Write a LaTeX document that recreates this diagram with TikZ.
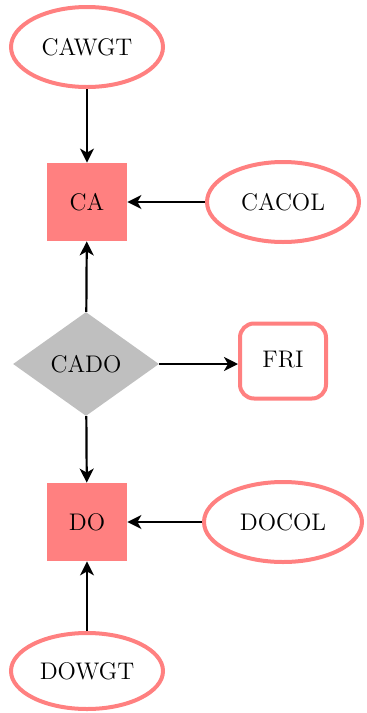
\documentclass[tikz,border=0pt]{standalone}
\usetikzlibrary{shapes.geometric,arrows.meta}
\begin{document}
\begin{tikzpicture}[x=0.5pt,y=-0.5pt,font=\large,
  ell/.style={ellipse,draw=red!50,line width=2pt,fill=white,minimum width=76pt,minimum height=40pt,inner sep=0pt},
  sq/.style={rectangle,fill=red!50,minimum width=40pt,minimum height=39pt,inner sep=0pt},
  dia/.style={diamond,fill=black!25,minimum width=73pt,minimum height=52pt,inner sep=0pt},
  rbox/.style={rectangle,rounded corners=7pt,draw=red!50,line width=2pt,minimum width=43pt,minimum height=37.5pt,inner sep=0pt},
  conn/.style={-{Stealth[length=7pt,width=7pt,inset=2pt]},line width=1.1pt}]
\useasboundingbox (0,0) rectangle (366,713);
\node[ell] (cawgt) at (87,47) {CAWGT};
\node[sq] (ca) at (87,202) {CA};
\node[ell] (cacol) at (283,202) {CACOL};
\node[dia] (cado) at (86,364) {CADO};
\node[rbox] (fri) at (283,361) {\raisebox{2pt}{FRI}};
\node[sq] (do) at (87,522) {DO};
\node[ell,minimum width=79pt] (docol) at (283,522) {DOCOL};
\node[ell,minimum height=38pt] (dowgt) at (87,671) {DOWGT};
\draw[conn] (cawgt) -- (ca);
\draw[conn] (cacol) -- (ca);
\draw[conn] (cado) -- (ca);
\draw[conn] (cado.east) -- (fri.west |- cado.east);
\draw[conn] (cado) -- (do);
\draw[conn] (docol) -- (do);
\draw[conn] (dowgt) -- (do);
\end{tikzpicture}
\end{document}
